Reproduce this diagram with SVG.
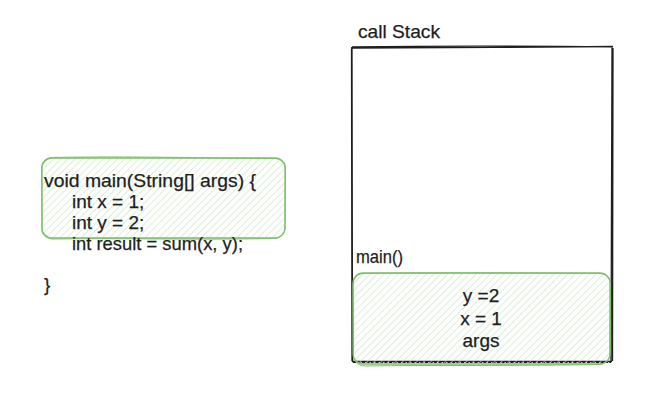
<svg xmlns="http://www.w3.org/2000/svg" width="656" height="412" viewBox="0 0 656 412">
<defs>
<pattern id="hatch" patternUnits="userSpaceOnUse" width="5" height="5" patternTransform="rotate(45)">
<line x1="0" y1="0" x2="0" y2="5" stroke="#c3e2ba" stroke-width="1.2"/>
</pattern>
</defs>
<style>
.t{font-family:"Liberation Sans",Arial,sans-serif;font-size:19px;fill:#1e1e1e;stroke:#1e1e1e;stroke-width:0.25}
.gbox{fill:url(#hatch);stroke:#7cc06a;stroke-width:1.3}
.gline{fill:none;stroke:#7cc06a;stroke-width:1}
.bline{fill:none;stroke:#1e1e1e;stroke-width:1.3}
</style>
<rect width="656" height="412" fill="#ffffff"/>
<g id="code">
<rect class="gbox" x="42" y="158" width="243" height="80" rx="10"/>
<path class="gline" d="M52 157.5 C120 156 200 158 275 158.5 C283 159 286 163 285.5 170 L285 228 C284 235 280 239 272 238.5 C200 240 120 238 52 239 C45 238 41 234 42 228 L41.5 168 C42 161 46 158 52 157.5"/>
<text class="t" x="44" y="187" textLength="212" lengthAdjust="spacingAndGlyphs">void main(String[] args) {</text>
<text class="t" x="72" y="208">int x = 1;</text>
<text class="t" x="72" y="229">int y = 2;</text>
<text class="t" x="72" y="250" textLength="171" lengthAdjust="spacingAndGlyphs">int result = sum(x, y);</text>
<text class="t" x="44" y="291">}</text>
</g>
<g id="callstack">
<text class="t" x="358" y="38" textLength="82" lengthAdjust="spacingAndGlyphs">call Stack</text>
<path class="bline" d="M352 47 C430 46 530 46 612 47 M351 48 C430 47.5 530 47.5 613 46.5 M352 47 L352.5 362 M351.5 49 L352 361 M612 46 L611 362 M613 48 L612.5 361 M352 361.5 L612 361.5"/>
<path d="M353 362.5 L611 362.5" stroke="#1e1e1e" stroke-width="1" stroke-dasharray="3 1.5"/>
</g>
<g id="main-frame">
<text class="t" x="356" y="263" textLength="47" lengthAdjust="spacingAndGlyphs">main()</text>
<rect class="gbox" x="353" y="273" width="257" height="91" rx="10"/>
<path class="gline" d="M363 273.5 C450 272.5 530 273 600 273.5 C607 274 611 278 610.5 285 L610 354 C609.5 361 605 364.5 598 364.5 C520 366 430 365 365 366 C357 365.5 353 361 353.5 354 L353 285 C353.5 278 357 274 363 273.5"/>
<text class="t" x="481" y="302" text-anchor="middle">y =2</text>
<text class="t" x="481" y="325" text-anchor="middle">x = 1</text>
<text class="t" x="481" y="347" text-anchor="middle">args</text>
</g>
</svg>
